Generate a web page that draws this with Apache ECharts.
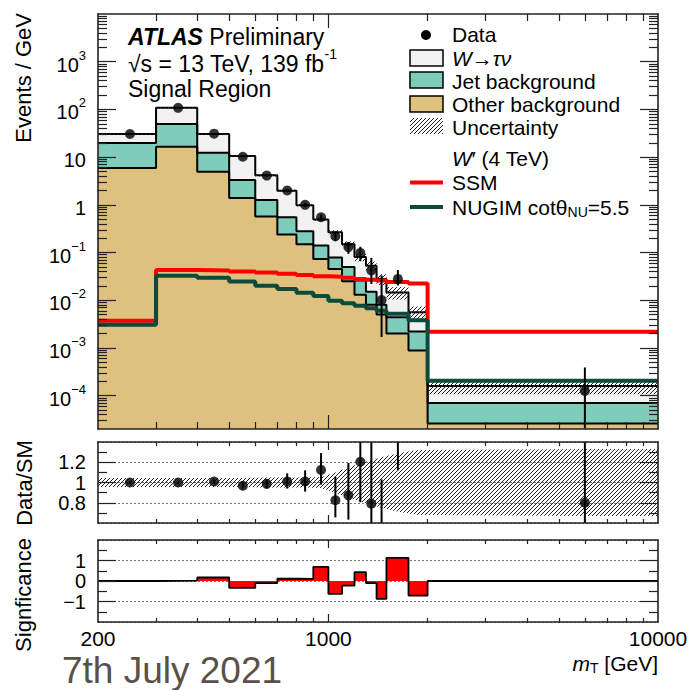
<!DOCTYPE html>
<html>
<head>
<meta charset="utf-8">
<title>ATLAS W' to tau nu - Signal Region</title>
<script src="https://cdn.jsdelivr.net/npm/echarts@6.0.0/dist/echarts.min.js"></script>
<style>
html,body{margin:0;padding:0;background:#fff;}
#chart{width:689px;height:690px;}
</style>
</head>
<body>
<div id="chart"></div>
<script>
// ------------------------- data -------------------------
const binEdges = [200,300,400,500,600,700,800,900,1000,1100,1200,1300,1400,1500,1750,2000,10000];
const binCenters = [250,350,450,550,650,750,850,950,1050,1150,1250,1350,1450,1625,1875,6000];

// Events / GeV
const dataValues   = [30.5,108,31,10.2,4.1,2.0,1.0,0.55,0.22,0.13,0.098,0.042,0.0101,0.028,null,0.000125];
const dataErrLow   = [0.55,1.05,0.55,0.32,0.2,0.14,0.1,0.074,0.047,0.036,0.032,0.02,0.0084,0.0076,null,0.000104];
const dataErrHigh  = [0.55,1.05,0.55,0.32,0.2,0.14,0.1,0.074,0.047,0.036,0.034,0.035,0.023,0.015,null,0.000265];

// stacked SM prediction (cumulative tops of the stack)
const totalSM      = [30.5,108,30.5,10.55,4.15,1.98,0.98,0.49,0.267,0.149,0.081,0.053,0.028,0.0146,0.0056,0.00016];
const jetPlusOther = [19.8,49.4,12.4,3.31,1.26,0.546,0.28,0.14,0.079,0.05,0.026,0.015,0.008,0.0044,0.0022,0.00007];
const otherBkg     = [5.9,16.5,4.95,1.39,0.57,0.24,0.15,0.073,0.045,0.025,0.013,0.008,0.005,0.002,0.00088,0.000026];
const uncRel       = [0.045,0.045,0.045,0.045,0.05,0.05,0.05,0.055,0.1,0.15,0.19,0.22,0.25,0.29,0.32,0.33];

// signals W' (4 TeV)
const ssmSignal    = [0.0037,0.043,0.042,0.040,0.038,0.0358,0.034,0.0318,0.031,0.0295,0.028,0.027,0.026,0.0242,0.0224,0.00219];
const nugimSignal  = [0.00307,0.0327,0.0295,0.0248,0.0202,0.0172,0.0144,0.0123,0.0098,0.0086,0.0077,0.0068,0.006,0.0052,0.0038,0.000206];

// ratio panel
const ratioValues   = [1.0,1.0,1.01,0.968,0.987,1.01,1.01,1.124,0.825,0.873,1.205,0.79,0.36,1.9,null,0.8];
const ratioErrLow   = [0.012,0.012,0.02,0.03,0.045,0.07,0.1,0.145,0.17,0.24,0.4,0.35,0.3,0.78,null,0.7];
const ratioErrHigh  = [0.012,0.012,0.02,0.03,0.045,0.08,0.11,0.166,0.23,0.32,0.45,0.7,0.67,1.0,null,2.3];

// significance panel
const sigValues = [0,0.02,0.17,-0.34,-0.1,0.11,0.1,0.69,-0.63,-0.23,0.43,-0.1,-0.87,1.13,-0.71,0];

// tick labels
const xTickLabels = [200,1000,10000];
const xMinorTicks = [300,400,500,600,700,800,900,2000,3000,4000,5000,6000,7000,8000,9000];
const xMajorTicks = [1000];
const yTickLabels = [1e-4,1e-3,1e-2,1e-1,1,10,100,1000];
const ratioTickLabels = [0.8,1,1.2];
const ratioMinorTicks = [0.7,0.9,1.1,1.3];
const sigTickLabels = [-1,0,1];
const sigMinorTicks = [-1.5,-0.5,0.5,1.5];

// ------------------------- helpers -------------------------
const FONT = "'Liberation Sans', Arial, Helvetica, sans-serif";
const FRAME = '#222';
const C_W = '#f2f2f2', C_JET = '#7ecdbb', C_OTHER = '#dec17e', C_SSM = '#ff0000', C_NUGIM = '#0c4a3c';

const yMinorTicks = [];
for (let e = -5; e <= 3; e++) for (let m = 2; m <= 9; m++) {
  const v = +(m * Math.pow(10, e)).toPrecision(3);
  if (v > 2.05e-5 && v < 1e4) yMinorTicks.push(v);
}

function makeHatch(color) {
  const c = document.createElement('canvas'); c.width = 4; c.height = 4;
  const g = c.getContext('2d'); g.strokeStyle = color; g.lineWidth = 1;
  g.beginPath(); g.moveTo(-1, 5); g.lineTo(5, -1); g.stroke();
  return { image: c.toDataURL(), repeat: 'repeat' };
}
const HATCH = makeHatch('#222');

function stepData(vals) {
  const d = vals.map((v, i) => [binEdges[i], v]);
  d.push([binEdges[binEdges.length - 1], vals[vals.length - 1]]);
  return d;
}

function logLabel(v) {
  const e = Math.round(Math.log10(v));
  if (e === 0) return '{b|1}';
  if (e === 1) return '{b|10}';
  return '{b|10}{sup|' + (e < 0 ? '\u2212' + (-e) : e) + '}';
}

const grid = [
  { left: 98, right: 31, top: 14, height: 415, outerBoundsMode: 'none', containLabel: false },
  { left: 98, right: 31, top: 442, height: 81, outerBoundsMode: 'none', containLabel: false },
  { left: 98, right: 31, top: 540, height: 82, outerBoundsMode: 'none', containLabel: false }
];

const xAxis = [], yAxis = [];
function addX(g, pos, ticks, len, frame, labels) {
  xAxis.push({
    type: 'log', logBase: 10, gridIndex: g, position: pos, min: 200, max: 10000, z: 10,
    axisLine: { show: frame, onZero: false, lineStyle: { color: FRAME, width: 1.6 } },
    axisTick: { show: true, inside: true, length: len, customValues: ticks, lineStyle: { color: FRAME, width: 1.2 } },
    axisLabel: labels ? { show: true, customValues: labels, margin: 6, color: '#000', fontFamily: FONT, fontSize: 21,
      formatter: v => String(Math.round(v)) } : { show: false },
    splitLine: { show: false }
  });
  return xAxis.length - 1;
}
function addY(g, pos, type, min, max, ticks, len, frame, labels, fmt, rich) {
  const ax = {
    type: type, gridIndex: g, position: pos, min: min, max: max, z: 10,
    axisLine: { show: frame, onZero: false, lineStyle: { color: FRAME, width: 1.6 } },
    axisTick: { show: true, inside: true, length: len, customValues: ticks, lineStyle: { color: FRAME, width: 1.2 } },
    axisLabel: labels ? { show: true, customValues: labels, margin: 12, color: '#000', fontFamily: FONT, fontSize: 20,
      formatter: fmt, rich: rich || undefined } : { show: false },
    splitLine: { show: false }
  };
  if (type === 'log') ax.logBase = 10;
  yAxis.push(ax);
  return yAxis.length - 1;
}
// dotted reference lines, drawn below the series
function addGridLines(g, min, max, interval) {
  yAxis.push({
    type: 'value', gridIndex: g, position: 'left', min: min, max: max, interval: interval, z: 0,
    axisLine: { show: false, onZero: false }, axisTick: { show: false }, axisLabel: { show: false },
    splitLine: { show: true, lineStyle: { color: '#777', type: [2, 2], width: 1 } }
  });
}

const X = [];
for (let g = 0; g < 3; g++) {
  const minL = g === 0 ? 7 : 4, majL = g === 0 ? 14 : 8;
  X[g] = addX(g, 'bottom', xMinorTicks, minL, true, g === 2 ? xTickLabels : null);
  addX(g, 'bottom', xMajorTicks, majL, false, null);
  addX(g, 'top', xMinorTicks, minL, true, null);
  addX(g, 'top', xMajorTicks, majL, false, null);
}
const logRich = {
  b: { fontFamily: FONT, fontSize: 20, lineHeight: 26, verticalAlign: 'bottom', color: '#000' },
  sup: { fontFamily: FONT, fontSize: 13, lineHeight: 13, verticalAlign: 'top', color: '#000' }
};
const Y = [];
Y[0] = addY(0, 'left', 'log', 2e-5, 1e4, yMinorTicks, 9, true, null);
addY(0, 'left', 'log', 2e-5, 1e4, yTickLabels, 18, false, yTickLabels, logLabel, logRich);
addY(0, 'right', 'log', 2e-5, 1e4, yMinorTicks, 9, true, null);
addY(0, 'right', 'log', 2e-5, 1e4, yTickLabels, 18, false, null);

const ratioFmt = v => (Math.abs(v - 1) < 1e-9 ? '1' : String(+v.toFixed(2)));
Y[1] = addY(1, 'left', 'value', 0.6, 1.4, ratioMinorTicks, 9, true, null);
addY(1, 'left', 'value', 0.6, 1.4, ratioTickLabels, 18, false, ratioTickLabels, ratioFmt);
addY(1, 'right', 'value', 0.6, 1.4, ratioMinorTicks, 9, true, null);
addY(1, 'right', 'value', 0.6, 1.4, ratioTickLabels, 18, false, null);
addGridLines(1, 0.6, 1.4, 0.2);

const sigFmt = v => (v < 0 ? '\u2212' + (-v) : String(v));
Y[2] = addY(2, 'left', 'value', -2, 2, sigMinorTicks, 9, true, null);
addY(2, 'left', 'value', -2, 2, sigTickLabels, 18, false, sigTickLabels, sigFmt);
addY(2, 'right', 'value', -2, 2, sigMinorTicks, 9, true, null);
addY(2, 'right', 'value', -2, 2, sigTickLabels, 18, false, null);
addGridLines(2, -2, 2, 1);

// ------------------------- series -------------------------
function stackLayer(vals, color, z) {
  return {
    type: 'line', xAxisIndex: X[0], yAxisIndex: Y[0], data: stepData(vals), step: 'end',
    symbol: 'none', silent: true, z: z,
    lineStyle: { color: '#000', width: 2 },
    areaStyle: { color: color, opacity: 1, origin: 'start' }
  };
}
function stepLine(xi, yi, vals, color, width, z) {
  return {
    type: 'line', xAxisIndex: xi, yAxisIndex: yi, data: stepData(vals), step: 'end',
    symbol: 'none', silent: true, z: z, lineStyle: { color: color, width: width }
  };
}
function errorBars(xi, yi, vals, lo, hi, z) {
  const d = [];
  vals.forEach((v, i) => { if (v !== null) d.push([binCenters[i], v - lo[i], v + hi[i]]); });
  return {
    type: 'custom', xAxisIndex: xi, yAxisIndex: yi, z: z, silent: true, clip: true, data: d,
    encode: { x: 0, y: [1, 2] },
    renderItem: (params, api) => {
      const p1 = api.coord([api.value(0), api.value(1)]);
      const p2 = api.coord([api.value(0), api.value(2)]);
      return { type: 'line', shape: { x1: p1[0], y1: p1[1], x2: p2[0], y2: p2[1] },
        style: { stroke: '#000', lineWidth: 2 } };
    }
  };
}
function points(xi, yi, vals, z) {
  const d = [];
  vals.forEach((v, i) => { if (v !== null) d.push([binCenters[i], v]); });
  return { type: 'scatter', xAxisIndex: xi, yAxisIndex: yi, z: z, silent: true, clip: true, data: d,
    symbol: 'circle', symbolSize: 10, itemStyle: { color: '#000' } };
}

const hatchData = totalSM.map((t, i) => [binEdges[i], binEdges[i + 1], t * (1 - uncRel[i]), t * (1 + uncRel[i])]);
const bandX = [binEdges[0]].concat(binCenters, [binEdges[binEdges.length - 1]]);
const bandHalf = [uncRel[0]].concat(uncRel, [uncRel[uncRel.length - 1]]);
const sigBars = sigValues.map((v, i) => [binEdges[i], binEdges[i + 1], v]);

const series = [
  stackLayer(totalSM, C_W, 2),
  stackLayer(jetPlusOther, C_JET, 2),
  stackLayer(otherBkg, C_OTHER, 2),
  {
    type: 'custom', xAxisIndex: X[0], yAxisIndex: Y[0], z: 3, silent: true, clip: true, data: hatchData,
    encode: { x: [0, 1], y: [2, 3] },
    renderItem: (params, api) => {
      const p1 = api.coord([api.value(0), api.value(3)]);
      const p2 = api.coord([api.value(1), api.value(2)]);
      return { type: 'rect', shape: { x: p1[0], y: p1[1], width: p2[0] - p1[0], height: p2[1] - p1[1] },
        style: { fill: HATCH } };
    }
  },
  stepLine(X[0], Y[0], ssmSignal, C_SSM, 4, 4),
  stepLine(X[0], Y[0], nugimSignal, C_NUGIM, 4, 4),
  errorBars(X[0], Y[0], dataValues, dataErrLow, dataErrHigh, 5),
  points(X[0], Y[0], dataValues, 6),
  // ratio panel
  {
    type: 'custom', xAxisIndex: X[1], yAxisIndex: Y[1], z: 3, silent: true, clip: true, data: [[bandX[0], 1]],
    renderItem: (params, api) => {
      const up = bandX.map((x, i) => api.coord([x, 1 + bandHalf[i]]));
      const dn = bandX.map((x, i) => api.coord([x, 1 - bandHalf[i]])).reverse();
      return { type: 'polygon', shape: { points: up.concat(dn) }, style: { fill: HATCH } };
    }
  },
  errorBars(X[1], Y[1], ratioValues, ratioErrLow, ratioErrHigh, 5),
  points(X[1], Y[1], ratioValues, 6),
  // significance panel: red bars + black step outline
  {
    type: 'custom', xAxisIndex: X[2], yAxisIndex: Y[2], z: 3, silent: true, clip: true, data: sigBars,
    encode: { x: [0, 1], y: 2 },
    renderItem: (params, api) => {
      const v = api.value(2);
      const p1 = api.coord([api.value(0), Math.max(v, 0)]);
      const p2 = api.coord([api.value(1), Math.min(v, 0)]);
      return { type: 'rect', shape: { x: p1[0], y: p1[1], width: p2[0] - p1[0], height: p2[1] - p1[1] },
        style: { fill: '#ff0000' } };
    }
  },
  stepLine(X[2], Y[2], sigValues, '#000', 1.8, 4)
];

// ------------------------- texts & legend -------------------------
function T(x, y, text, opts) {
  return { type: 'text', x: x, y: y, silent: true, z: 100,
    style: Object.assign({ text: text, fontFamily: FONT, fontSize: 21, fill: '#000', align: 'left', verticalAlign: 'middle' }, opts || {}) };
}
const supRich = {
  n: { fontFamily: FONT, fontSize: 23, lineHeight: 28, verticalAlign: 'bottom' },
  sup: { fontFamily: FONT, fontSize: 14, lineHeight: 14, verticalAlign: 'top' }
};
const legRich = {
  n: { fontFamily: FONT, fontSize: 21 },
  i: { fontFamily: FONT, fontSize: 21, fontStyle: 'italic' }
};
const subRich = {
  n: { fontFamily: FONT, fontSize: 21, lineHeight: 22, verticalAlign: 'top' },
  i: { fontFamily: FONT, fontSize: 21, lineHeight: 22, verticalAlign: 'top', fontStyle: 'italic' },
  sub: { fontFamily: FONT, fontSize: 14, lineHeight: 14, verticalAlign: 'bottom' }
};

const graphics = [
  T(128, 37, '{a|ATLAS}{n| Preliminary}', { rich: {
    a: { fontFamily: FONT, fontSize: 23, fontWeight: 'bold', fontStyle: 'italic' },
    n: { fontFamily: FONT, fontSize: 23 } } }),
  T(128, 61, '{n|\u221As = 13 TeV, 139 fb}{sup|-1}', { rich: supRich }),
  T(128, 89, 'Signal Region', { fontSize: 23 }),

  // legend
  { type: 'circle', shape: { cx: 426, cy: 35, r: 5 }, style: { fill: '#000' }, z: 100, silent: true },
  T(452, 34, 'Data'),
  { type: 'rect', shape: { x: 410, y: 50, width: 33, height: 16 }, style: { fill: C_W, stroke: '#000', lineWidth: 1.5 }, z: 100, silent: true },
  T(452, 58, '{i|W}{n|\u2192}{i|\u03C4\u03BD}', { rich: legRich }),
  { type: 'rect', shape: { x: 410, y: 72, width: 33, height: 16 }, style: { fill: C_JET, stroke: '#000', lineWidth: 1.5 }, z: 100, silent: true },
  T(452, 81, 'Jet background'),
  { type: 'rect', shape: { x: 410, y: 96, width: 33, height: 16 }, style: { fill: C_OTHER, stroke: '#000', lineWidth: 1.5 }, z: 100, silent: true },
  T(452, 104, 'Other background'),
  { type: 'rect', shape: { x: 410, y: 118, width: 33, height: 16 }, style: { fill: HATCH }, z: 100, silent: true },
  T(452, 127, 'Uncertainty'),
  T(452, 158, '{i|W}{n|\u2032 (4 TeV)}', { rich: legRich }),
  { type: 'line', shape: { x1: 410, y1: 182.5, x2: 443, y2: 182.5 }, style: { stroke: C_SSM, lineWidth: 4 }, z: 100, silent: true },
  T(452, 182, 'SSM'),
  { type: 'line', shape: { x1: 410, y1: 207, x2: 443, y2: 207 }, style: { stroke: C_NUGIM, lineWidth: 4 }, z: 100, silent: true },
  T(452, 208, '{n|NUGIM cot\u03B8}{sub|NU}{n|=5.5}', { rich: subRich }),

  // axis titles
  { type: 'text', x: 23, y: 13, rotation: Math.PI / 2, silent: true, z: 100,
    style: { text: 'Events / GeV', fontFamily: FONT, fontSize: 22, fill: '#000', align: 'right', verticalAlign: 'middle' } },
  { type: 'text', x: 24, y: 483, rotation: Math.PI / 2, silent: true, z: 100,
    style: { text: 'Data/SM', fontFamily: FONT, fontSize: 22, fill: '#000', align: 'center', verticalAlign: 'middle' } },
  { type: 'text', x: 23, y: 595, rotation: Math.PI / 2, silent: true, z: 100,
    style: { text: 'Signficance', fontFamily: FONT, fontSize: 22, fill: '#000', align: 'center', verticalAlign: 'middle' } },
  T(658, 664, '{i|m}{sub|T}{n| [GeV]}', { align: 'right', rich: subRich }),
  T(62, 670, '7th July 2021', { fontSize: 37, fill: '#5a5048' })
];

const chart = echarts.init(document.getElementById('chart'), null, { renderer: 'svg', width: 689, height: 690 });
chart.setOption({
  animation: false,
  backgroundColor: '#fff',
  grid: grid,
  xAxis: xAxis,
  yAxis: yAxis,
  series: series,
  graphic: { elements: graphics }
});
</script>
</body>
</html>
